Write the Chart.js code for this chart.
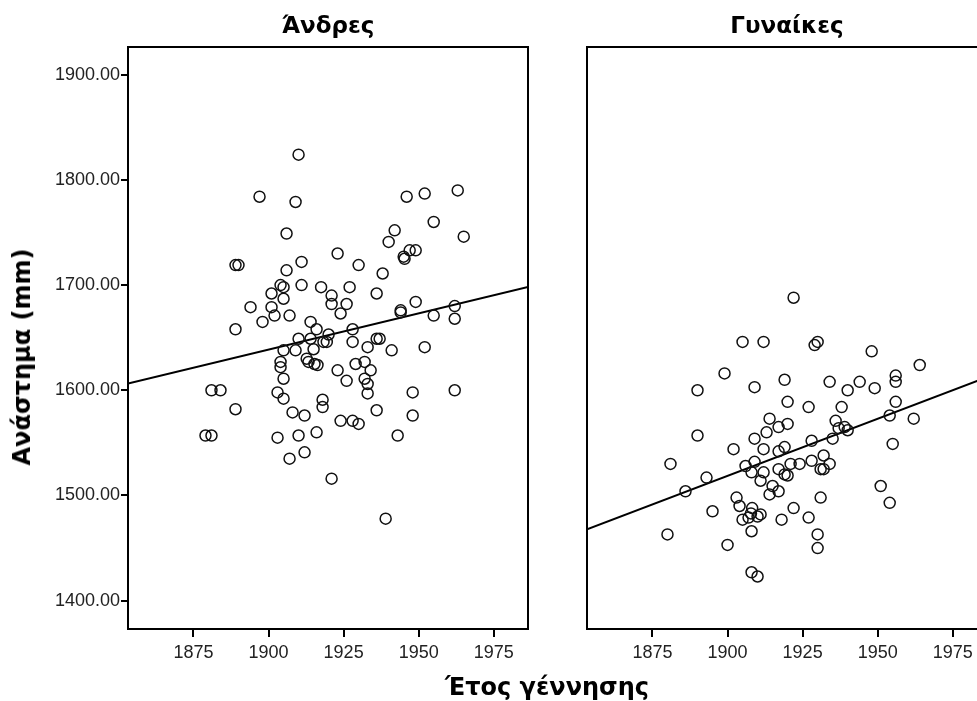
<!DOCTYPE html>
<html>
<head>
<meta charset="utf-8">
<script src="https://cdn.jsdelivr.net/npm/chart.js@4.4.1/dist/chart.umd.min.js"></script>
<style>
html, body { margin: 0; padding: 0; width: 977px; height: 701px; overflow: hidden; background: #fff; }
canvas { position: absolute; top: 0; }
#left { left: 0; }
#right { left: 560px; }
.axtitle { position: absolute; font: bold 24px "DejaVu Sans", sans-serif; color: #000; white-space: nowrap; }
#ytitle { left: 22px; top: 357px; transform: translate(-50%, -50%) rotate(-90deg); }
#xtitle { left: 547px; top: 687px; transform: translate(-50%, -50%); }
</style>
</head>
<body>
<canvas id="left" width="560" height="701"></canvas>
<canvas id="right" width="460" height="701"></canvas>
<div class="axtitle" id="ytitle">Ανάστημα (mm)</div>
<div class="axtitle" id="xtitle">Έτος γέννησης</div>
<script>
// Άνδρες
const menYears = [1910, 1897, 1909, 1906, 1889, 1890, 1911, 1906, 1904, 1905, 1911, 1917.5, 1901, 1905, 1894, 1901,
    1898, 1902, 1907, 1914, 1889, 1916, 1923, 1930, 1938, 1942, 1940, 1946, 1952, 1963, 1955, 1965,
    1945, 1945.3, 1947, 1949, 1927, 1921, 1936, 1921, 1926, 1949, 1944, 1944, 1962, 1924, 1955, 1962,
    1928, 1910, 1914, 1920, 1919.4, 1918.3, 1928, 1933, 1936, 1937, 1941, 1952, 1905, 1909, 1915, 1912.7,
    1913.3, 1915.3, 1916.3, 1904, 1904, 1905, 1923, 1929, 1932, 1934, 1932, 1933, 1933, 1926,
    1948, 1962, 1881, 1884, 1903, 1905, 1918, 1918, 1936, 1948, 1889, 1908, 1912, 1924, 1928, 1930,
    1879, 1881, 1903, 1910, 1916, 1943, 1907, 1912, 1921, 1939];
const menHeights = [1824, 1784, 1779, 1749, 1719, 1719, 1722, 1714, 1700, 1698, 1700, 1698, 1692, 1687, 1679, 1679,
    1665, 1671, 1671, 1665, 1658, 1658, 1730, 1719, 1711, 1752, 1741, 1784, 1787, 1790, 1760, 1746,
    1727, 1725, 1733, 1733, 1698, 1690, 1692, 1682, 1682, 1684, 1676, 1674, 1680, 1673, 1671, 1668,
    1658, 1649, 1649, 1653, 1646, 1646, 1646, 1641, 1649, 1649, 1638, 1641, 1638, 1638, 1639, 1630,
    1627, 1625, 1624, 1627, 1622, 1611, 1619, 1625, 1627, 1619, 1611, 1606, 1597, 1609,
    1598, 1600, 1600, 1600, 1598, 1592, 1591, 1584, 1581, 1576, 1582, 1579, 1576, 1571, 1571, 1568,
    1557, 1557, 1555, 1557, 1560, 1557, 1535, 1541, 1516, 1478];

// Γυναίκες
const womenYears = [1922, 1905, 1912, 1899, 1890, 1909, 1919, 1920, 1914, 1917, 1920, 1890, 1909, 1913, 1902, 1912,
    1919, 1917, 1881, 1906, 1909, 1908, 1912, 1917, 1919, 1920, 1921, 1924, 1893, 1911, 1886, 1915,
    1914, 1917, 1903, 1904, 1895, 1922, 1908.2, 1907.8, 1911, 1910, 1905, 1907, 1918, 1908, 1880, 1900,
    1908, 1910, 1929, 1930, 1948, 1964, 1934, 1940, 1944, 1949, 1956, 1956, 1927, 1938, 1956, 1936,
    1937, 1939, 1940, 1954, 1962, 1928, 1935, 1955, 1928, 1932, 1934, 1931, 1932, 1951, 1954, 1931,
    1927, 1930, 1930];
const womenHeights = [1688, 1646, 1646, 1616, 1600, 1603, 1610, 1589, 1573, 1565, 1568, 1557, 1554, 1560, 1544, 1544,
    1546, 1542, 1530, 1528, 1532, 1522, 1522, 1525, 1520, 1519, 1530, 1530, 1517, 1514, 1504, 1509,
    1501, 1504, 1498, 1490, 1485, 1488, 1488, 1483, 1482, 1480, 1477, 1479, 1477, 1466, 1463, 1453,
    1427, 1423, 1643, 1646, 1637, 1624, 1608, 1600, 1608, 1602, 1614, 1608, 1584, 1584, 1589, 1571,
    1564, 1565, 1562, 1576, 1573, 1552, 1554, 1549, 1533, 1538, 1530, 1525, 1525, 1509, 1493, 1498,
    1479, 1463, 1450];

// ευθείες παλινδρόμησης (άκρα του άξονα)
const fitYears = [1853.2, 1986.4];
const menFit = [1606.5, 1698.3];
const womenFit = [1467.8, 1612.5];

const xTicks = [1875, 1900, 1925, 1950, 1975];
const yTicks = [1400, 1500, 1600, 1700, 1800, 1900];

const toPoints = (xs, ys) => xs.map((x, i) => ({x: x, y: ys[i]}));

const frame = {
    id: 'frame',
    afterDraw(chart) {
        const a = chart.chartArea, ctx = chart.ctx;
        ctx.save();
        ctx.strokeStyle = '#000';
        ctx.lineWidth = 2;
        ctx.strokeRect(a.left, a.top, a.right - a.left, a.bottom - a.top);
        ctx.restore();
    }
};

function makeChart(id, title, pts, fit, showY, leftW, padRight) {
    return new Chart(document.getElementById(id), {
        type: 'scatter',
        data: {
            datasets: [{
                data: pts,
                pointRadius: 5.5,
                pointHoverRadius: 5.5,
                borderColor: '#111',
                borderWidth: 1.5,
                backgroundColor: 'rgba(0,0,0,0)'
            }, {
                data: toPoints(fitYears, fit),
                showLine: true,
                pointRadius: 0,
                borderColor: '#000',
                borderWidth: 2,
                fill: false
            }]
        },
        options: {
            responsive: false,
            animation: false,
            layout: {padding: {left: 0, right: padRight, top: 0, bottom: 0}},
            plugins: {
                legend: {display: false},
                tooltip: {enabled: false},
                title: {
                    display: true,
                    text: title,
                    fullSize: false,
                    color: '#000',
                    font: {family: 'DejaVu Sans', size: 23, weight: 'bold', lineHeight: 1.2},
                    padding: {top: 13, bottom: 6.4}
                }
            },
            scales: {
                x: {
                    type: 'linear',
                    min: fitYears[0],
                    max: fitYears[1],
                    afterBuildTicks: s => { s.ticks = xTicks.map(v => ({value: v})); },
                    afterFit: s => { s.height = 72; },
                    border: {display: false},
                    grid: {drawOnChartArea: false, drawTicks: true, tickLength: 8, color: '#000', lineWidth: 2},
                    ticks: {
                        color: '#222',
                        padding: 5,
                        maxRotation: 0,
                        font: {family: 'Liberation Sans', size: 18},
                        callback: v => String(v)
                    }
                },
                y: {
                    type: 'linear',
                    min: 1373.1,
                    max: 1926.3,
                    afterBuildTicks: s => { s.ticks = yTicks.map(v => ({value: v})); },
                    afterFit: s => { s.width = leftW; },
                    border: {display: false},
                    grid: {display: showY, drawOnChartArea: false, drawTicks: true, tickLength: 7, color: '#000', lineWidth: 2},
                    ticks: {
                        display: showY,
                        color: '#222',
                        padding: 1,
                        font: {family: 'Liberation Sans', size: 18},
                        callback: v => v.toFixed(2)
                    }
                }
            }
        },
        plugins: [frame]
    });
}

makeChart('left', 'Άνδρες', toPoints(menYears, menHeights), menFit, true, 128, 32);
makeChart('right', 'Γυναίκες', toPoints(womenYears, womenHeights), womenFit, false, 27, 33);
</script>
</body>
</html>
